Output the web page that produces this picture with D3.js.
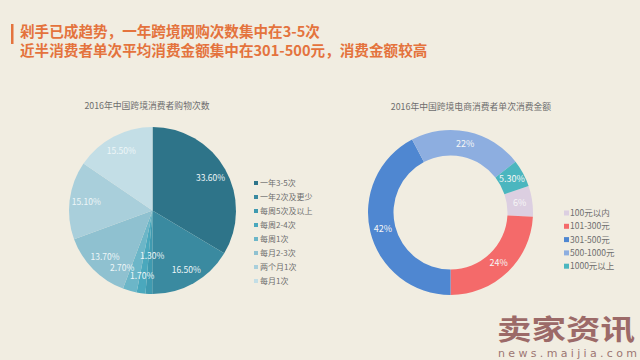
<!DOCTYPE html>
<html><head><meta charset="utf-8">
<script src="https://cdn.jsdelivr.net/npm/d3@7"></script>
<style>
html,body{margin:0;padding:0;background:#f1ede1;}
svg{display:block;font-family:"Noto Sans CJK SC","Noto Sans",sans-serif;}
</style></head>
<body><svg id="c" width="640" height="360"></svg>
<script>
// ---- data ----
const titleLines = ["剁手已成趋势，一年跨境网购次数集中在3-5次", "近半消费者单次平均消费金额集中在301-500元，消费金额较高"];
const pieTitle = "2016年中国跨境消费者购物次数";
const pieCats = ["一年3-5次","一年2次及更少","每周5次及以上","每周2-4次","每周1次","每月2-3次","两个月1次","每月1次"];
const pieVals = [33.6, 16.5, 1.3, 1.7, 2.7, 13.7, 15.1, 15.5];
const pieLabels = ["33.60%","16.50%","1.30%","1.70%","2.70%","13.70%","15.10%","15.50%"];
const donutTitle = "2016年中国跨境电商消费者单次消费金额";
const donutCats = ["100元以内","101-300元","301-500元","500-1000元","1000元以上"];
const donutVals = [6, 24, 42, 22, 5.3];
const donutLabels = ["6%","24%","42%","22%","5.30%"];

// ---- styles ----
const pieColors = ["#2e7489","#3a8aa0","#3f9ab0","#4aa8bd","#6cb6c8","#8fc1d0","#a9cfdb","#c3dee6"];
const donutColors = ["#dccfe1","#f46a6a","#4f87d1","#8daee0","#4bb6bf"];

const svg = d3.select("#c");

// header
svg.append("rect").attr("x",11).attr("y",24).attr("width",2.5).attr("height",20).attr("fill","#e4733d");
svg.selectAll("text.hdr").data(titleLines).join("text").attr("class","hdr")
  .attr("x",20).attr("y",(d,i)=>37+i*19)
  .attr("font-size",14.6).attr("font-weight","bold").attr("fill","#e4733d").text(d=>d);

// ---- pie ----
const pc = {x:152.5, y:210.5, r:83.5};
const pg = svg.append("g").attr("transform",`translate(${pc.x},${pc.y})`);
const pie = d3.pie().sort(null).value(d=>d);
const pArcs = pie(pieVals);
const pArc = d3.arc().innerRadius(0).outerRadius(pc.r);
pg.selectAll("path").data(pArcs).join("path").attr("d",pArc).attr("fill",(d,i)=>pieColors[i]);
// label placement (radius fraction, angle shift in degrees) - small slices nudged
const pNudge = [[0.8,0],[0.82,0],[0.55,-2],[0.8,1],[0.78,12],[0.8,0],[0.8,0],[0.8,0]];
pg.selectAll("text").data(pArcs).join("text")
  .attr("transform",(d,i)=>{const a=(d.startAngle+d.endAngle)/2 + pNudge[i][1]*Math.PI/180; const r=pc.r*pNudge[i][0];
     return `translate(${Math.sin(a)*r},${-Math.cos(a)*r})`;})
  .attr("text-anchor","middle").attr("dy","0.35em").attr("font-size",8.5).attr("fill","#eef6f8")
  .text((d,i)=>pieLabels[i]);
svg.append("text").attr("x",147).attr("y",109).attr("text-anchor","middle").attr("font-size",8.8).attr("fill","#6e6e6e").text(pieTitle);
const pl = svg.append("g");
pieCats.forEach((c,i)=>{
  const y = 183 + i*14;
  pl.append("rect").attr("x",254).attr("y",y-2).attr("width",4).attr("height",4).attr("fill",pieColors[i]);
  pl.append("text").attr("x",260).attr("y",y).attr("dy","0.35em").attr("font-size",8).attr("fill","#6e6e6e").text(c);
});

// ---- donut ----
const dc = {x:450.5, y:212.5, r:82.5, ir:57};
const dg = svg.append("g").attr("transform",`translate(${dc.x},${dc.y})`);
const start = 71.2*Math.PI/180;
const dpie = d3.pie().sort(null).value(d=>d).startAngle(start).endAngle(start+2*Math.PI);
const dArcs = dpie(donutVals);
const dArc = d3.arc().innerRadius(dc.ir).outerRadius(dc.r);
dg.selectAll("path").data(dArcs).join("path").attr("d",dArc).attr("fill",(d,i)=>donutColors[i]);
dg.selectAll("text").data(dArcs).join("text")
  .attr("transform",d=>`translate(${dArc.centroid(d)})`)
  .attr("text-anchor","middle").attr("dy","0.35em").attr("font-size",9).attr("fill","#f6f6f6")
  .text((d,i)=>donutLabels[i]);
svg.append("text").attr("x",471).attr("y",110).attr("text-anchor","middle").attr("font-size",8.8).attr("fill","#6e6e6e").text(donutTitle);
const dl = svg.append("g");
donutCats.forEach((c,i)=>{
  const y = 213 + i*13.3;
  dl.append("rect").attr("x",564).attr("y",y-2.5).attr("width",5).attr("height",5).attr("fill",donutColors[i]);
  dl.append("text").attr("x",570).attr("y",y).attr("dy","0.35em").attr("font-size",8.5).attr("fill","#6e6e6e").text(c);
});

// watermark
svg.append("text").attr("x",497).attr("y",340).attr("font-size",28).attr("font-weight","bold")
  .attr("fill","#9c6a68").attr("textLength",138).attr("lengthAdjust","spacingAndGlyphs").text("卖家资讯");
svg.append("text").attr("x",498).attr("y",357).attr("font-size",11).attr("fill","#9c7673")
  .attr("textLength",139).attr("font-family","DejaVu Sans").text("news.maijia.com");
</script></body></html>
